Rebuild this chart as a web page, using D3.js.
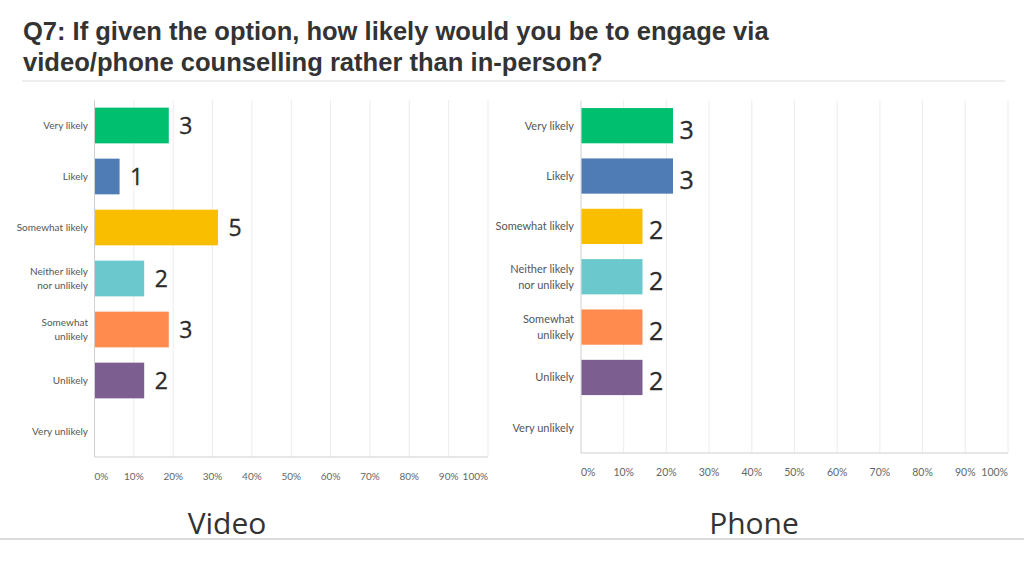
<!DOCTYPE html>
<html><head><meta charset="utf-8">
<script src="https://cdn.jsdelivr.net/npm/d3@7"></script>
<style>body{margin:0;background:#fff}svg{display:block}</style>
</head><body>
<svg id="c" width="1024" height="576"></svg>
<script>
const titleLines = ["Q7: If given the option, how likely would you be to engage via", "video/phone counselling rather than in-person?"];
const categories = ["Very likely", "Likely", "Somewhat likely", "Neither likely\nnor unlikely", "Somewhat\nunlikely", "Unlikely", "Very unlikely"];
const colors = ["#00BF6F", "#507CB6", "#F9BE00", "#6BC8CD", "#FF8B4F", "#7D5E90", "#bbbbbb"];
const videoCounts = [3, 1, 5, 2, 3, 2, 0];
const phoneCounts = [3, 3, 2, 2, 2, 2, 0];
const tickValues = [0, 0.1, 0.2, 0.3, 0.4, 0.5, 0.6, 0.7, 0.8, 0.9, 1.0];
const panelTitles = ["Video", "Phone"];

const svg = d3.select("#c");

// Title (condensed bold sans)
const titleWidths = [746, 580];
const titleBase = [40, 71];
titleLines.forEach((txt, i) => {
  const g = svg.append("g");
  const t = g.append("text").attr("x", 0).attr("y", titleBase[i]).text(txt)
    .attr("font-family", "Liberation Sans, Arial, sans-serif").attr("font-weight", "bold")
    .attr("font-size", 25).attr("fill", "#333");
  const s = titleWidths[i] / t.node().getComputedTextLength();
  g.attr("transform", `translate(23,0) scale(${s},1)`);
});

svg.append("line").attr("x1", 22).attr("x2", 1005).attr("y1", 81).attr("y2", 81).attr("stroke", "#dcdcdc").attr("stroke-width", 1);
svg.append("line").attr("x1", 0).attr("x2", 1024).attr("y1", 539).attr("y2", 539).attr("stroke", "#cfcfcf").attr("stroke-width", 1.5);

function drawPanel(cfg) {
  const {counts, x0, x1, y0, y1, labelRight, catFont, tickFont, valFont, valGap, valDy, tickY, title, titleX} = cfg;
  const total = d3.sum(counts);
  const g = svg.append("g");
  const x = d3.scaleLinear().domain([0, 1]).range([x0, x1]);
  const y = d3.scaleBand().domain(categories).range([y0, y1]).paddingInner(0.3).paddingOuter(0.15);

  g.selectAll("line.grid").data(tickValues.slice(1)).join("line")
    .attr("x1", d => x(d)).attr("x2", d => x(d)).attr("y1", y0).attr("y2", y1)
    .attr("stroke", "#ececec").attr("stroke-width", 1);
  g.append("line").attr("x1", x0).attr("x2", x0).attr("y1", y0).attr("y2", y1).attr("stroke", "#d0d0d0");
  g.append("line").attr("x1", x0).attr("x2", x1).attr("y1", y1).attr("y2", y1).attr("stroke", "#d0d0d0").attr("stroke-width", 1.2);

  g.selectAll("text.tick").data(tickValues).join("text")
    .attr("x", d => x(d))
    .attr("y", tickY)
    .attr("text-anchor", (d, i) => i === 0 ? "start" : (i === tickValues.length - 1 ? "end" : "middle"))
    .attr("font-family", "Lato, sans-serif").attr("font-size", tickFont).attr("fill", "#666")
    .text(d => d3.format(".0%")(d));

  g.selectAll("rect.bar").data(categories).join("rect")
    .attr("x", x0 + 0.5)
    .attr("y", d => y(d))
    .attr("width", (d, i) => Math.max(0, x(counts[i] / total) - x0))
    .attr("height", y.bandwidth())
    .attr("fill", (d, i) => colors[i]);

  g.selectAll("text.cat").data(categories).join("text")
    .attr("text-anchor", "end")
    .attr("font-family", "Lato, sans-serif").attr("font-size", catFont).attr("fill", "#555")
    .each(function(d) {
      const lines = d.split("\n");
      const cy = y(d) + y.bandwidth() / 2;
      const lh = catFont * 1.45;
      const sel = d3.select(this);
      lines.forEach((l, k) => {
        sel.append("tspan").attr("x", labelRight)
          .attr("y", cy + (k - (lines.length - 1) / 2) * lh + catFont * 0.35)
          .text(l);
      });
    });

  g.selectAll("text.val").data(categories.filter((d, i) => counts[i] > 0)).join("text")
    .attr("x", d => x(counts[categories.indexOf(d)] / total) + valGap)
    .attr("y", d => y(d) + y.bandwidth() / 2 + valDy)
    .attr("dominant-baseline", "central")
    .attr("font-family", "Open Sans, sans-serif").attr("font-size", valFont).attr("fill", "#2b2b2b")
    .attr("stroke", "#2b2b2b").attr("stroke-width", 0.3)
    .text(d => counts[categories.indexOf(d)]);

  svg.append("text").attr("x", titleX).attr("y", 534).attr("text-anchor", "middle")
    .attr("font-family", "Open Sans, sans-serif").attr("font-size", 30).attr("fill", "#333")
    .text(title);
}

drawPanel({counts: videoCounts, x0: 94.5, x1: 488, y0: 100, y1: 457, labelRight: 88, catFont: 10, tickFont: 10,
  valFont: 23, valGap: 11, valDy: -1, tickY: 480, title: panelTitles[0], titleX: 227});
drawPanel({counts: phoneCounts, x0: 581, x1: 1008, y0: 100.5, y1: 453, labelRight: 574, catFont: 11, tickFont: 10.5,
  valFont: 25, valGap: 7, valDy: 3, tickY: 476, title: panelTitles[1], titleX: 754});
</script>
</body></html>
